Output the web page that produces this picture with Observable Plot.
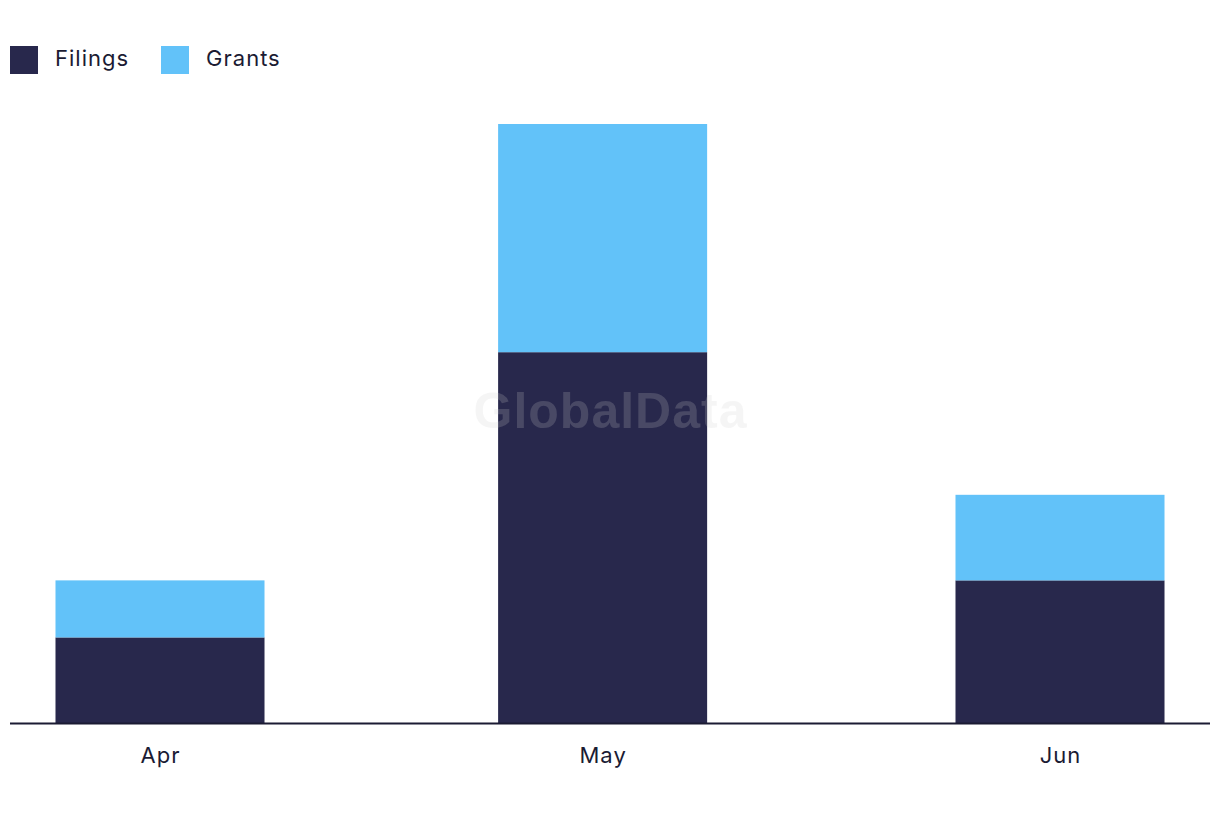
<!DOCTYPE html>
<html>
<head>
<meta charset="utf-8">
<script src="https://cdn.jsdelivr.net/npm/d3@7"></script>
<script src="https://cdn.jsdelivr.net/npm/@observablehq/plot@0.6"></script>
<style>
  html, body { margin: 0; padding: 0; background: #ffffff; }
  body { width: 1220px; height: 822px; overflow: hidden; font-family: Inter, "Noto Sans", sans-serif; color: #1b1b33; }
  #legend { display: flex; align-items: center; height: 28px; padding: 46px 0 0 10px; font-size: 22px; letter-spacing: 1px; }
  .item { display: flex; align-items: center; margin-right: 32px; }
  .item span { position: relative; top: -2px; }
  .sw { width: 28px; height: 28px; margin-right: 17px; }
  #chart { position: relative; margin-top: 26px; }
</style>
</head>
<body>
<div id="legend"></div>
<div id="chart"></div>
<script>
const months = ["Apr", "May", "Jun"];
const monthDates = [new Date(Date.UTC(2024, 3, 1)), new Date(Date.UTC(2024, 4, 1)), new Date(Date.UTC(2024, 5, 1))];
const series = ["Filings", "Grants"];
const filings = [6, 26, 10];
const grants = [4, 16, 6];
const colors = ["#28284c", "#62c2f9"];

const data = [];
months.forEach((m, i) => {
  data.push({month: m, date: monthDates[i], series: "Filings", value: filings[i]});
  data.push({month: m, date: monthDates[i], series: "Grants", value: grants[i]});
});

// legend
const legend = document.getElementById("legend");
series.forEach((s, i) => {
  const it = document.createElement("div");
  it.className = "item";
  it.innerHTML = `<div class="sw" style="background:${colors[i]}"></div><span>${s}</span>`;
  legend.appendChild(it);
});

const halfWidthHours = 170; // either side of the month mark
const xDomain = [d3.utcHour.offset(monthDates[0], -244), d3.utcHour.offset(monthDates[2], 244)];

const chart = Plot.plot({
  width: 1220,
  height: 722,
  marginLeft: 10,
  marginRight: 10,
  marginTop: 24,
  marginBottom: 99,
  style: {fontFamily: "Inter, 'Noto Sans', sans-serif", fontSize: "22px", color: "#1b1b33", background: "#ffffff", letterSpacing: "1px"},
  x: {type: "utc", domain: xDomain, label: null},
  y: {domain: [0, 42], axis: null},
  color: {domain: series, range: colors},
  marks: [
    Plot.rectY(data, Plot.stackY({
      x1: d => d3.utcHour.offset(d.date, -halfWidthHours),
      x2: d => d3.utcHour.offset(d.date, halfWidthHours),
      y: "value",
      fill: "series",
      order: series
    })),
    Plot.axisX({ticks: monthDates, tickFormat: (d, i) => months[i], tickSize: 0, tickPadding: 24, fontSize: 22}),
    Plot.ruleY([0], {stroke: "#1b1b33", strokeWidth: 2}),
    Plot.text(["GlobalData"], {frameAnchor: "middle", dy: -12, text: d => d, fontSize: 50, fontWeight: "bold", fontFamily: "Liberation Sans, Arial, sans-serif", fill: "#cccccc", fillOpacity: 0.2})
  ]
});
document.getElementById("chart").appendChild(chart);
</script>
</body>
</html>
